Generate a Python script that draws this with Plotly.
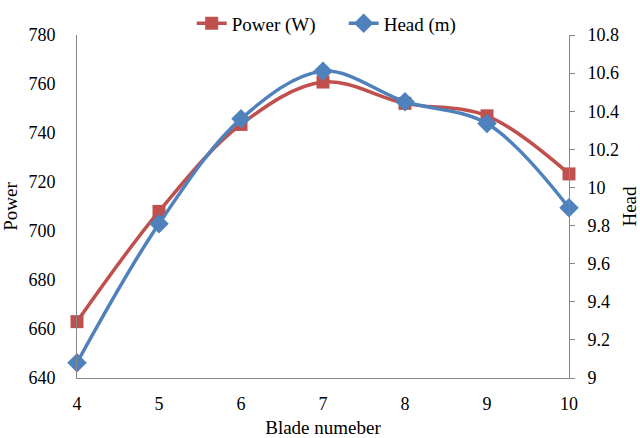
import plotly.graph_objects as go

blades = [4, 5, 6, 7, 8, 9, 10]
power = [663, 708, 743.5, 760.8, 752.1, 747.0, 723.3]
head = [9.08, 9.81, 10.36, 10.61, 10.45, 10.335, 9.893]

font_family = "Liberation Serif"
red = "#C0504D"
blue = "#4F81BD"
axis_color = "#868686"
tick_font = dict(family=font_family, size=18, color="black")
title_font = dict(family=font_family, size=19, color="black")

fig = go.Figure()
fig.add_trace(go.Scatter(
    x=blades, y=power, name="Power (W)", mode="lines+markers",
    line=dict(color=red, width=3.5, shape="spline", smoothing=1),
    marker=dict(symbol="square", size=13, color=red),
    cliponaxis=False, yaxis="y"))
fig.add_trace(go.Scatter(
    x=blades, y=head, name="Head (m)", mode="lines+markers",
    line=dict(color=blue, width=3.5, shape="spline", smoothing=1),
    marker=dict(symbol="diamond", size=15, color=blue),
    cliponaxis=False, yaxis="y2"))

fig.update_layout(
    width=640, height=438,
    margin=dict(l=77, r=71, t=35, b=60, autoexpand=False),
    paper_bgcolor="white", plot_bgcolor="white",
    font=title_font,
    showlegend=True,
    legend=dict(orientation="h", x=0.537, xanchor="center", xref="container",
                y=0.99, yanchor="top", yref="container",
                font=title_font, bgcolor="rgba(0,0,0,0)", itemwidth=30,
                entrywidth=107, entrywidthmode="pixels",
                tracegroupgap=0),
    xaxis=dict(range=[4, 10], tickvals=blades, showgrid=False, zeroline=False,
               showline=True, linecolor=axis_color, linewidth=1,
               ticks="", ticklabelstandoff=9, tickfont=tick_font, automargin=False,
               title=dict(text="Blade numeber", standoff=8, font=title_font)),
    yaxis=dict(range=[640, 780], dtick=20, showgrid=False, zeroline=False,
               showline=True, linecolor=axis_color, linewidth=1,
               ticks="", ticklabelstandoff=17, tickfont=tick_font, automargin=False,
               title=dict(text="Power", standoff=6, font=title_font)),
    yaxis2=dict(range=[9, 10.8], dtick=0.2, overlaying="y", side="right",
                showgrid=False, zeroline=False,
                showline=True, linecolor=axis_color, linewidth=1,
                ticks="outside", ticklen=5, tickcolor=axis_color,
                ticklabelstandoff=9, tickfont=tick_font, automargin=False,
                title=dict(text="Head", standoff=10, font=title_font)),
)

fig.write_html("out.html")
